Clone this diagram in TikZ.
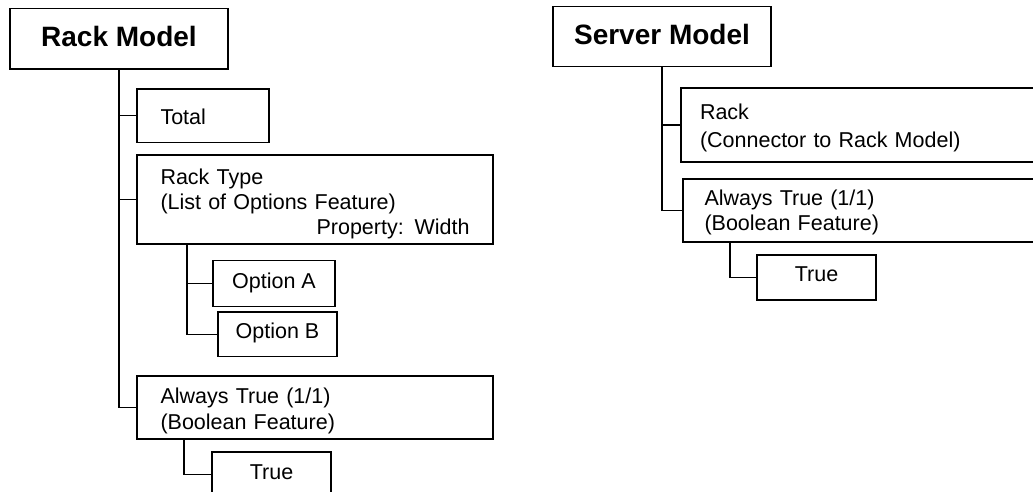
\documentclass[tikz,border=0pt]{standalone}
\usepackage{fontspec}
\setmainfont{Liberation Sans}
\begin{document}
\begin{tikzpicture}[x=1pt,y=-1pt,
  bx/.style={draw, line width=1.3pt, rectangle, inner sep=0pt, outer sep=0pt,
    anchor=north west, text depth=0pt, font=\fontsize{21.5}{25}\selectfont},
  ttl/.style={bx, font=\bfseries\fontsize{28}{32}\selectfont, align=center},
  ln/.style={line width=1.3pt}]
\useasboundingbox[fill=white] (0,0) rectangle (1033,492);
\clip (0,0) rectangle (1033,492);
% Rack Model tree
\node[ttl, minimum width=218pt, minimum height=60.7pt, text height=16pt] (RM) at (10,8.3) {Rack Model};
\node[bx, minimum width=132pt, minimum height=53.5pt, text width=85pt, inner xsep=23.5pt, align=left,
  text height=17.1pt] (Total) at (137,89) {Total};
\node[bx, minimum width=356pt, minimum height=89pt, text width=309pt, inner xsep=23.5pt, align=left,
  text height=19pt, text depth=50pt] (RT) at (137,155)
  {Rack Type\\(List of Options Feature)\\\mbox{}\hfill Property: Width};
\node[bx, minimum width=122pt, minimum height=46pt, text height=8.6pt] (OA) at (213,260.7) {Option A};
\node[bx, minimum width=119pt, minimum height=44.5pt, text height=8.1pt] (OB) at (218,312) {Option B};
\node[bx, minimum width=356pt, minimum height=63pt, text width=309pt, inner xsep=23.5pt, align=left,
  font=\fontsize{21.5}{26}\selectfont, text height=17pt, text depth=26pt] (AL) at (137,376)
  {Always True (1/1)\\(Boolean Feature)};
\node[bx, minimum width=119pt, minimum height=45pt, text height=9.6pt] (TL) at (212,452) {True};
% Server Model tree
\node[ttl, minimum width=218pt, minimum height=60pt, text height=15pt] (SM) at (553,6.7) {Server Model};
\node[bx, minimum width=356pt, minimum height=74pt, text width=318pt, inner xsep=19pt, align=left,
  font=\fontsize{21.5}{28}\selectfont, text height=18pt, text depth=28pt] (RR) at (681,88)
  {Rack\\(Connector to Rack Model)};
\node[bx, minimum width=356pt, minimum height=63pt, text width=313pt, inner xsep=21.5pt, align=left,
  text height=14pt, text depth=25pt] (AR) at (683,179)
  {Always True (1/1)\\(Boolean Feature)};
\node[bx, minimum width=119pt, minimum height=45pt, text height=8.4pt] (TR) at (757,255) {True};
% connectors
\draw[ln] (RM.south) |- (Total.west);
\draw[ln] (RM.south) |- (RT.west);
\draw[ln] (RM.south) |- (AL.west);
\draw[ln] ([xshift=50pt]RT.south west) |- (OA.west);
\draw[ln] ([xshift=50pt]RT.south west) |- (OB.west);
\draw[ln] ([xshift=47pt]AL.south west) |- (TL.west);
\draw[ln] (SM.south) |- (RR.west);
\draw[ln] (SM.south) |- (AR.west);
\draw[ln] ([xshift=47pt]AR.south west) |- (TR.west);
\end{tikzpicture}
\end{document}
